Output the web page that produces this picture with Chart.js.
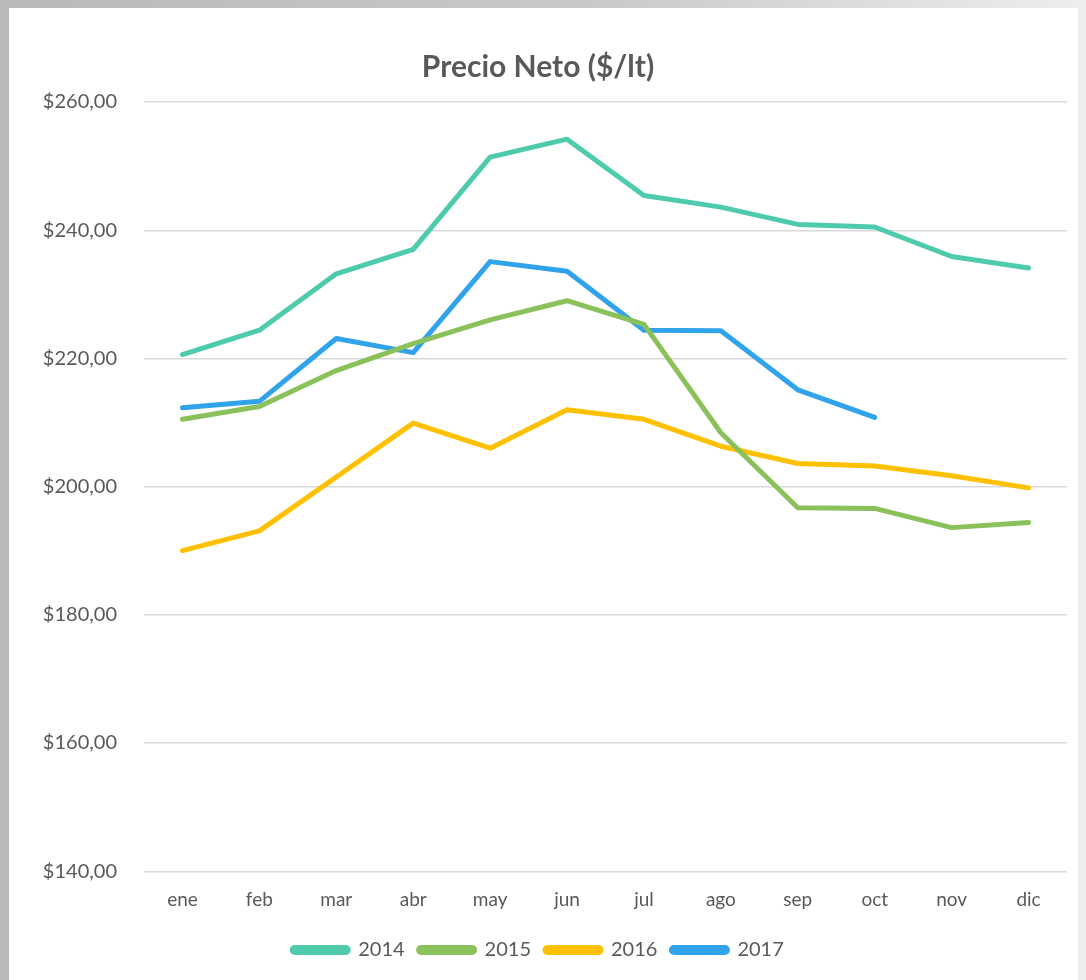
<!DOCTYPE html>
<html>
<head>
<meta charset="utf-8">
<script src="https://cdn.jsdelivr.net/npm/chart.js@4/dist/chart.umd.min.js"></script>
<style>
  html, body { margin: 0; padding: 0; }
  body {
    width: 1086px; height: 980px; overflow: hidden;
    background: linear-gradient(to right, #b9b9b9, #c9c9c9 55%, #eeeeee);
    position: relative;
  }
  #panel {
    position: absolute; left: 9px; top: 8px;
    width: 1069px; height: 972px; background: #fff;
  }
</style>
</head>
<body>
<div id="panel"><canvas id="precioChart" width="1069" height="972"></canvas></div>
<script>
// ====== Data ======
const months = ["ene", "feb", "mar", "abr", "may", "jun", "jul", "ago", "sep", "oct", "nov", "dic"];
const precio2014 = [220.6, 224.4, 233.2, 237.0, 251.4, 254.2, 245.4, 243.6, 240.9, 240.5, 235.9, 234.1];
const precio2015 = [210.5, 212.5, 218.1, 222.3, 226.0, 229.0, 225.3, 208.4, 196.7, 196.6, 193.6, 194.4];
const precio2016 = [190.0, 193.1, 201.5, 209.9, 206.0, 212.0, 210.5, 206.3, 203.6, 203.2, 201.7, 199.8];
const precio2017 = [212.3, 213.3, 223.1, 220.9, 235.1, 233.6, 224.4, 224.3, 215.1, 210.8, null, null];
const yTicks = [140, 160, 180, 200, 220, 240, 260];

const textColor = "#595959";
const fontFamily = "Lato, 'Open Sans', sans-serif";

const makeSeries = (label, data, color) => ({
  label,
  data,
  borderColor: color,
  backgroundColor: color,
  borderWidth: 5,
  borderCapStyle: "round",
  borderJoinStyle: "round",
  pointRadius: 0,
  pointHoverRadius: 0,
  tension: 0,
  spanGaps: false,
});

const ctx = document.getElementById("precioChart").getContext("2d");

new Chart(ctx, {
  type: "line",
  data: {
    labels: months,
    datasets: [
      makeSeries("2014", precio2014, "#4ECAAC"),
      makeSeries("2015", precio2015, "#8AC15A"),
      makeSeries("2016", precio2016, "#FFC000"),
      makeSeries("2017", precio2017, "#31A3EB"),
    ],
  },
  options: {
    responsive: false,
    animation: false,
    devicePixelRatio: 1,
    layout: { padding: { top: 0, right: 11, bottom: 10, left: 0 } },
    plugins: {
      title: {
        display: true,
        text: "Precio Neto ($/lt)",
        color: textColor,
        font: { family: fontFamily, size: 30, weight: "bold" },
        padding: { top: 41, bottom: 17 },
      },
      legend: {
        position: "bottom",
        labels: {
          color: textColor,
          font: { family: fontFamily, size: 20 },
          boxWidth: 56,
          boxHeight: 5,
          useBorderRadius: true,
          borderRadius: 2.5,
          padding: 14,
        },
      },
      tooltip: { enabled: false },
    },
    scales: {
      x: {
        offset: true,
        grid: { display: false, drawTicks: false },
        border: { display: false },
        afterFit: (scale) => {
          scale.height = scale.height - 2;
        },
        ticks: {
          color: textColor,
          font: { family: fontFamily, size: 19 },
          padding: 17,
          maxRotation: 0,
        },
      },
      y: {
        min: 140,
        max: 260,
        afterBuildTicks: (scale) => {
          scale.ticks = yTicks.map((v) => ({ value: v }));
        },
        afterFit: (scale) => {
          scale.width = 135;
        },
        grid: { color: "#D9D9D9", lineWidth: 1.4, drawTicks: false },
        border: { display: false },
        ticks: {
          color: textColor,
          font: { family: fontFamily, size: 20 },
          padding: 27,
          callback: (v) => "$" + v.toFixed(2).replace(".", ","),
        },
      },
    },
  },
});
</script>
</body>
</html>
